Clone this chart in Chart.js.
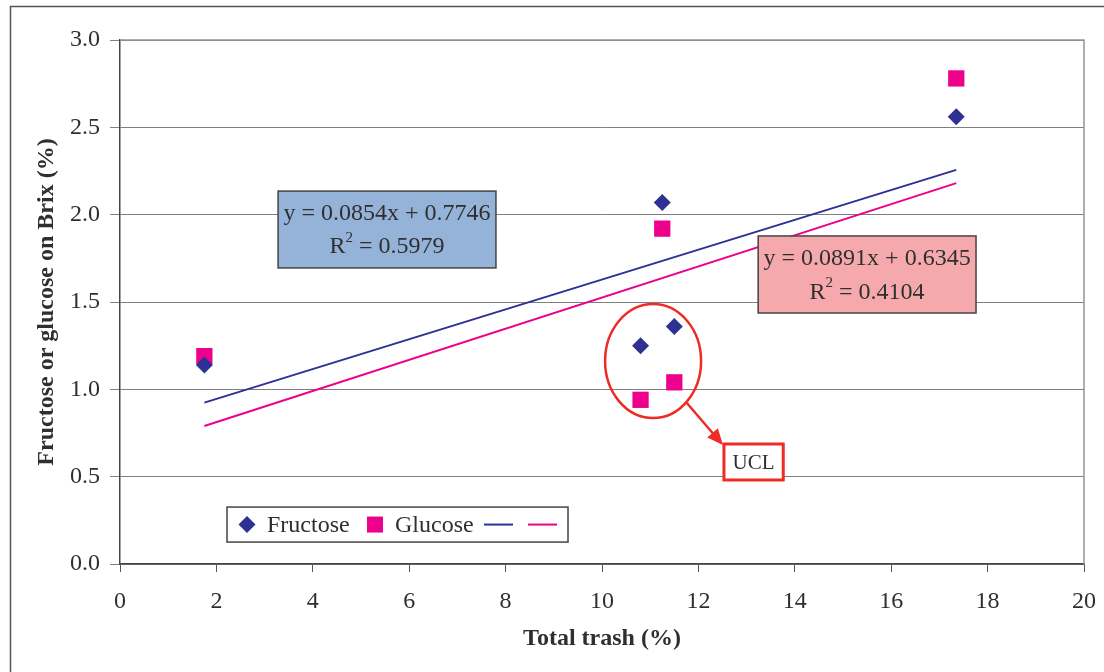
<!DOCTYPE html>
<html>
<head>
<meta charset="utf-8">
<script src="https://cdn.jsdelivr.net/npm/chart.js@4.4.0/dist/chart.umd.min.js"></script>
<style>
  html, body { margin: 0; padding: 0; background: #fff; }
  #wrap { width: 1104px; height: 672px; }
</style>
</head>
<body>
<div id="wrap"><canvas id="c" width="1104" height="672"></canvas></div>
<script>
// samples: total trash (%) vs sugar on Brix (%)
const trash    = [1.75, 10.8, 11.25, 11.5, 17.35];
const fructose = [1.14, 1.25, 2.07, 1.36, 2.56];
const glucose  = [1.19, 0.94, 1.92, 1.04, 2.78];

const xTicks = [0, 2, 4, 6, 8, 10, 12, 14, 16, 18, 20];
const yTicks = [0, 0.5, 1.0, 1.5, 2.0, 2.5, 3.0];

// linear fits: slope, intercept, R²
const fitFructose = [0.0854, 0.7746, 0.5979];
const fitGlucose  = [0.0891, 0.6345, 0.4104];
const fitRange    = [1.75, 17.35];

const $ = id => document.getElementById(id);
const FONT = '"Liberation Serif", "Times New Roman", serif';
const FS = 24;
const INK = '#2f2f2f';
const NAVY = '#2E3192';
const MAGENTA = '#EC008C';
const RED = '#EE2B24';

const pts = ys => trash.map((x, i) => ({ x, y: ys[i] }));
const fitLine = f => fitRange.map(x => ({ x, y: f[0] * x + f[1] }));

// equation box: "y = ax + b" over "R² = r"
function eqBox(ctx, x0, y0, x1, y1, fill, fit){
  ctx.save();
  ctx.fillStyle = fill;
  ctx.fillRect(x0, y0, x1 - x0, y1 - y0);
  ctx.strokeStyle = '#444';
  ctx.lineWidth = 1.5;
  ctx.strokeRect(x0, y0, x1 - x0, y1 - y0);
  const cx = (x0 + x1) / 2, h = y1 - y0;
  ctx.fillStyle = INK;
  ctx.textBaseline = 'middle';
  ctx.textAlign = 'center';
  ctx.font = `${FS}px ${FONT}`;
  ctx.fillText(`y = ${fit[0].toFixed(4)}x + ${fit[1].toFixed(4)}`, cx, y0 + h * 0.29);
  // R² with raised 2
  const rest = ` = ${fit[2].toFixed(4)}`;
  const wR = ctx.measureText('R').width, wRest = ctx.measureText(rest).width;
  ctx.font = `15px ${FONT}`;
  const w2 = ctx.measureText('2').width;
  let x = cx - (wR + w2 + wRest) / 2;
  const yb = y0 + h * 0.73;
  ctx.textAlign = 'left';
  ctx.font = `${FS}px ${FONT}`;
  ctx.fillText('R', x, yb); x += wR;
  ctx.font = `15px ${FONT}`;
  ctx.fillText('2', x, yb - 9); x += w2;
  ctx.font = `${FS}px ${FONT}`;
  ctx.fillText(rest, x, yb);
  ctx.restore();
}

const extras = {
  id: 'extras',
  afterDraw(chart){
    const ctx = chart.ctx, a = chart.chartArea;
    const sx = chart.scales.x, sy = chart.scales.y;
    const px = v => sx.getPixelForValue(v), py = v => sy.getPixelForValue(v);
    ctx.save();

    // outer frame (top + left)
    ctx.strokeStyle = '#555';
    ctx.lineWidth = 1.5;
    ctx.beginPath();
    ctx.moveTo(10.5, 672); ctx.lineTo(10.5, 6.5); ctx.lineTo(1104, 6.5);
    ctx.stroke();

    // plot area top/right edge
    ctx.strokeStyle = '#9c9090';
    ctx.lineWidth = 1.5;
    ctx.beginPath();
    ctx.moveTo(a.left, a.top); ctx.lineTo(a.right, a.top); ctx.lineTo(a.right, a.bottom);
    ctx.stroke();

    // fit equations
    eqBox(ctx, px(3.28), py(2.135), px(7.8), py(1.695), '#95B3D9', fitFructose);
    eqBox(ctx, px(13.24), py(1.878), px(17.76), py(1.437), '#F5A9AC', fitGlucose);

    // circled outliers
    ctx.strokeStyle = RED;
    ctx.lineWidth = 2.5;
    ctx.beginPath();
    ctx.ellipse(px(11.06), py(1.162), 48, 57, 0, 0, Math.PI * 2);
    ctx.stroke();

    // arrow to label
    const ax0 = px(11.76), ay0 = py(0.922), ax1 = px(12.51), ay1 = py(0.681);
    const ang = Math.atan2(ay1 - ay0, ax1 - ax0);
    ctx.beginPath();
    ctx.moveTo(ax0, ay0);
    ctx.lineTo(ax1 - 12 * Math.cos(ang), ay1 - 12 * Math.sin(ang));
    ctx.stroke();
    ctx.fillStyle = RED;
    ctx.beginPath();
    ctx.moveTo(ax1, ay1);
    ctx.lineTo(ax1 - 16 * Math.cos(ang) + 7 * Math.sin(ang), ay1 - 16 * Math.sin(ang) - 7 * Math.cos(ang));
    ctx.lineTo(ax1 - 16 * Math.cos(ang) - 7 * Math.sin(ang), ay1 - 16 * Math.sin(ang) + 7 * Math.cos(ang));
    ctx.closePath();
    ctx.fill();

    // UCL label
    const ux0 = px(12.53), uy0 = py(0.687), ux1 = px(13.76), uy1 = py(0.481);
    ctx.fillStyle = '#fff';
    ctx.fillRect(ux0, uy0, ux1 - ux0, uy1 - uy0);
    ctx.lineWidth = 3;
    ctx.strokeRect(ux0, uy0, ux1 - ux0, uy1 - uy0);
    ctx.fillStyle = INK;
    ctx.font = `21px ${FONT}`;
    ctx.textAlign = 'center';
    ctx.textBaseline = 'middle';
    ctx.fillText('UCL', (ux0 + ux1) / 2, (uy0 + uy1) / 2 + 1);

    // legend
    const lx = px(2.22), ly = py(0.326), lw = 341, lh = 35, lc = ly + lh / 2;
    ctx.fillStyle = '#fff';
    ctx.fillRect(lx, ly, lw, lh);
    ctx.strokeStyle = '#444';
    ctx.lineWidth = 1.5;
    ctx.strokeRect(lx, ly, lw, lh);
    ctx.fillStyle = NAVY;
    ctx.beginPath();
    ctx.moveTo(lx + 20, lc - 8.5); ctx.lineTo(lx + 28.5, lc);
    ctx.lineTo(lx + 20, lc + 8.5); ctx.lineTo(lx + 11.5, lc);
    ctx.closePath(); ctx.fill();
    ctx.fillStyle = MAGENTA;
    ctx.fillRect(lx + 140, lc - 8, 16, 16);
    ctx.fillStyle = INK;
    ctx.font = `${FS}px ${FONT}`;
    ctx.textAlign = 'left';
    ctx.fillText('Fructose', lx + 40, lc + 1);
    ctx.fillText('Glucose', lx + 168, lc + 1);
    ctx.lineWidth = 2;
    ctx.strokeStyle = NAVY;
    ctx.beginPath(); ctx.moveTo(lx + 257, lc); ctx.lineTo(lx + 286, lc); ctx.stroke();
    ctx.strokeStyle = MAGENTA;
    ctx.beginPath(); ctx.moveTo(lx + 301, lc); ctx.lineTo(lx + 330, lc); ctx.stroke();

    ctx.restore();
  }
};

new Chart($('c').getContext('2d'), {
  type: 'scatter',
  data: {
    datasets: [
      { label: 'Fructose', data: pts(fructose), pointStyle: 'rectRot', pointRadius: 8.5,
        backgroundColor: NAVY, borderColor: NAVY, borderWidth: 0 },
      { label: 'Glucose', data: pts(glucose), pointStyle: 'rect', pointRadius: 11.5,
        backgroundColor: MAGENTA, borderColor: MAGENTA, borderWidth: 0 },
      { type: 'line', label: 'fit fructose', data: fitLine(fitFructose), borderColor: NAVY,
        borderWidth: 2, pointRadius: 0, fill: false },
      { type: 'line', label: 'fit glucose', data: fitLine(fitGlucose), borderColor: MAGENTA,
        borderWidth: 2, pointRadius: 0, fill: false }
    ]
  },
  options: {
    responsive: false,
    animation: false,
    layout: { padding: { left: 10, top: 40, right: 20, bottom: 8 } },
    plugins: { legend: { display: false }, tooltip: { enabled: false } },
    scales: {
      x: {
        type: 'linear', min: 0, max: 20,
        afterBuildTicks: s => { s.ticks = xTicks.map(value => ({ value })); },
        afterFit: s => { s.height = 100; s.paddingLeft = 0; s.paddingRight = 0; },
        ticks: { color: INK, font: { family: FONT, size: FS }, padding: 15, maxRotation: 0 },
        grid: { drawOnChartArea: false, drawTicks: true, tickLength: 8, color: '#555' },
        border: { color: '#444', width: 1.5 },
        title: { display: true, text: 'Total trash (%)', color: INK,
          font: { family: FONT, size: FS, weight: 'bold' }, padding: { top: 0, bottom: 11 } }
      },
      y: {
        type: 'linear', min: 0, max: 3,
        afterBuildTicks: s => { s.ticks = yTicks.map(value => ({ value })); },
        afterFit: s => { s.width = 110; s.paddingTop = 0; s.paddingBottom = 0; },
        ticks: { color: INK, font: { family: FONT, size: FS }, padding: 10,
          callback: v => v.toFixed(1) },
        grid: { color: '#7f7f7f', lineWidth: 1, tickLength: 10 },
        border: { color: '#444', width: 1.5 },
        title: { display: true, text: 'Fructose or glucose on Brix (%)', color: INK,
          font: { family: FONT, size: FS, weight: 'bold' }, padding: { top: 22, bottom: 0 } }
      }
    }
  },
  plugins: [extras]
});
</script>
</body>
</html>
